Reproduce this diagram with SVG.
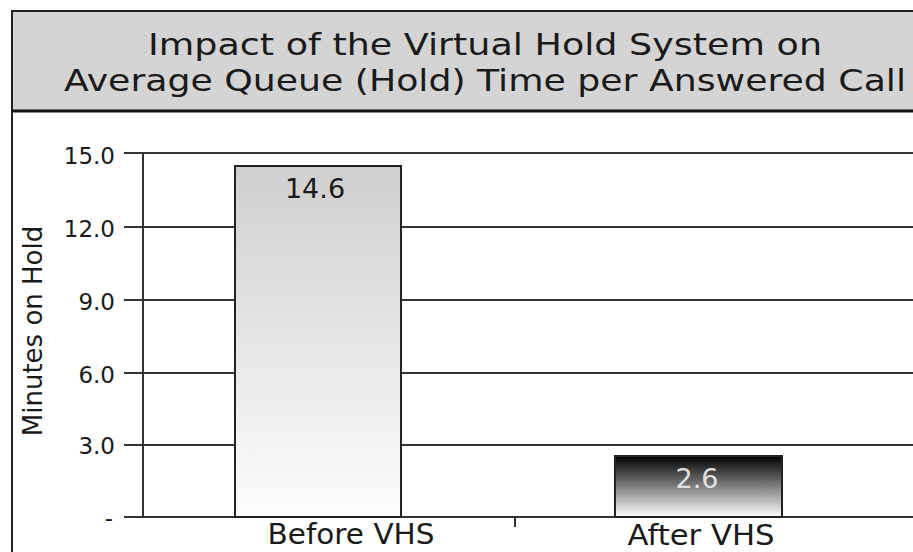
<svg xmlns="http://www.w3.org/2000/svg" width="913" height="552" viewBox="0 0 913 552">
<defs>
<linearGradient id="g1" x1="0" y1="0" x2="0" y2="1"><stop offset="0" stop-color="#cfcfcf"/><stop offset="1" stop-color="#fcfcfc"/></linearGradient>
<linearGradient id="g2" x1="0" y1="0" x2="0" y2="1"><stop offset="0" stop-color="#000"/><stop offset="1" stop-color="#fff"/></linearGradient>
<style>
text{font-family:"DejaVu Sans",Verdana,sans-serif;fill:#1a1a1a}
.t{font-size:30px;text-anchor:middle}
.tick{font-size:23px;text-anchor:end}
.cat{font-size:28px;text-anchor:middle}
.val{font-size:27px;text-anchor:middle}
.grid{stroke:#333;stroke-width:2;fill:none}
.bar{stroke:#222;stroke-width:2}
</style>
</defs>
<rect width="913" height="552" fill="#fff"/>
<g id="title">
<rect x="12" y="11" width="903" height="100" fill="#d4d4d4" stroke="#222" stroke-width="2"/>
<line x1="11" y1="111" x2="913" y2="111" stroke="#111" stroke-width="3"/>
<text class="t" x="485" y="55" textLength="674" lengthAdjust="spacingAndGlyphs">Impact of the Virtual Hold System on</text>
<text class="t" x="485" y="91" textLength="842" lengthAdjust="spacingAndGlyphs">Average Queue (Hold) Time per Answered Call</text>
</g>
<line x1="12" y1="111" x2="12" y2="552" stroke="#222" stroke-width="2"/>
<g id="axes">
<path class="grid" d="M124 153H913M124 227H913M124 300H913M124 373H913M124 445H913M124 517H913M143 153V517M515 517V527"/>
<text class="tick" x="115" y="164">15.0</text>
<text class="tick" x="115" y="237">12.0</text>
<text class="tick" x="115" y="310">9.0</text>
<text class="tick" x="115" y="383">6.0</text>
<text class="tick" x="115" y="454">3.0</text>
<text class="tick" x="113" y="526">-</text>
<text transform="translate(42 331) rotate(-90)" style="font-size:26px;text-anchor:middle">Minutes on Hold</text>
</g>
<g id="bar-before">
<rect class="bar" x="235" y="166" width="166" height="351" fill="url(#g1)"/>
<text class="val" x="315" y="198">14.6</text>
<text class="cat" x="351" y="544" textLength="167" lengthAdjust="spacingAndGlyphs">Before VHS</text>
</g>
<g id="bar-after">
<rect class="bar" x="615" y="456" width="167" height="61" fill="url(#g2)"/>
<text class="val" x="697" y="488" style="fill:#e0e0e0">2.6</text>
<text class="cat" x="701" y="545" textLength="147" lengthAdjust="spacingAndGlyphs">After VHS</text>
</g>
</svg>
